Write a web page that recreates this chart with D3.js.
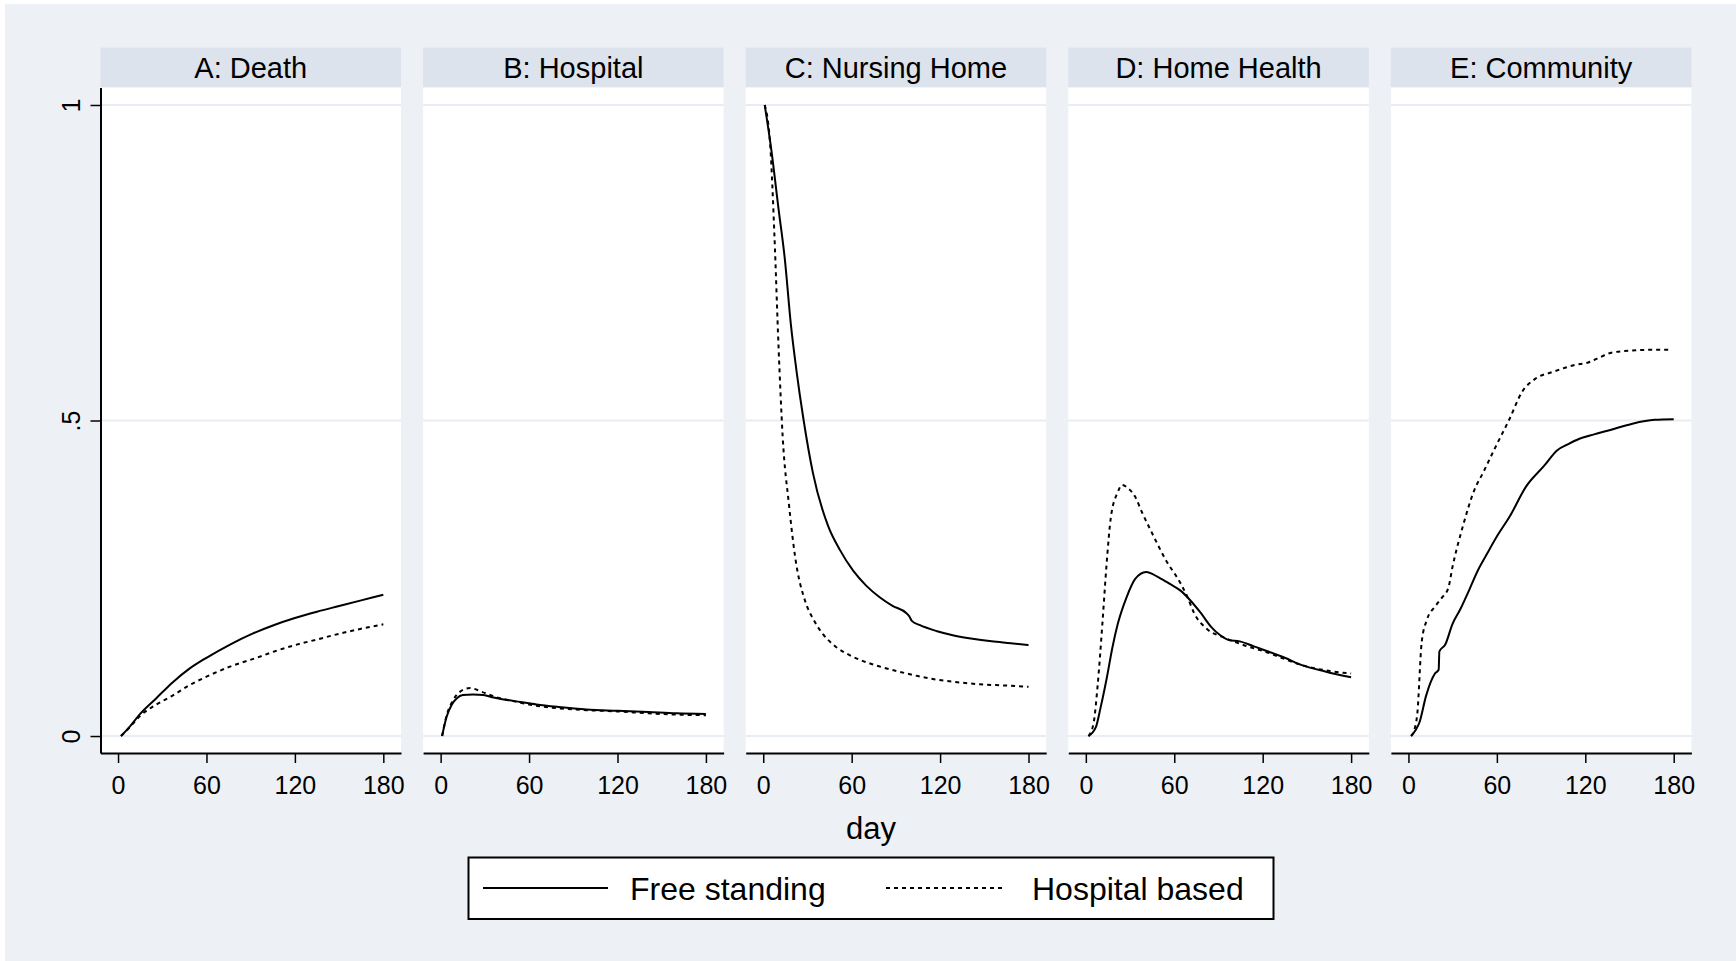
<!DOCTYPE html>
<html>
<head>
<meta charset="utf-8">
<script src="https://cdn.jsdelivr.net/npm/d3@7"></script>
<style>
  html, body { margin: 0; padding: 0; background: #fff; }
  svg { display: block; font-family: "Liberation Sans", Arial, sans-serif; }
</style>
</head>
<body>
<div id="chart"></div>
<script>
// Facetted transition probabilities by day, two series per panel

const PANELS = ["A: Death", "B: Hospital", "C: Nursing Home", "D: Home Health", "E: Community"];
const X_TICKS = [0, 60, 120, 180];
const Y_TICKS = [0, 0.5, 1];
const Y_TICK_LABELS = ["0", ".5", "1"];
const SERIES_NAMES = ["Free standing", "Hospital based"];

// [day, probability]
const deathFree = [[2,0],[8,0.015],[15,0.035],[26,0.06],[37,0.085],[48,0.106],[60,0.124],[76,0.145],[92,0.163],[106,0.176],[120,0.187],[135,0.197],[150,0.206],[165,0.215],[180,0.224]];
const deathHosp = [[2,0],[8,0.014],[15,0.032],[26,0.05],[37,0.064],[48,0.08],[60,0.094],[76,0.11],[94,0.124],[106,0.134],[120,0.144],[135,0.153],[150,0.162],[165,0.17],[180,0.177]];

const hospFree = [[1,0],[4,0.03],[7.6,0.05],[11,0.06],[15,0.065],[22,0.066],[29,0.065],[36,0.061],[43,0.058],[54,0.054],[65,0.05],[80,0.046],[99,0.042],[120,0.04],[141,0.038],[160,0.036],[180,0.035]];
const hospHosp = [[1,0],[4,0.032],[8,0.055],[13,0.07],[20,0.076],[28,0.07],[37,0.062],[48,0.056],[60,0.05],[75,0.045],[99,0.041],[120,0.039],[141,0.036],[160,0.034],[180,0.033]];

const nursFree = [[1,1],[5.6,0.927],[10.4,0.835],[14.6,0.757],[18.8,0.651],[22.5,0.58],[27.3,0.502],[33.7,0.417],[44,0.333],[52,0.295],[61,0.262],[70,0.238],[79,0.22],[88,0.206],[97,0.195],[99,0.19],[101,0.182],[106,0.176],[118,0.166],[130,0.159],[142,0.154],[155,0.15],[168,0.147],[180,0.144]];
const nursHosp = [[1,1],[4.8,0.934],[7.6,0.793],[10.4,0.616],[13.2,0.474],[17.4,0.368],[21.7,0.283],[28.7,0.212],[34,0.185],[40,0.163],[49,0.142],[59.6,0.127],[75,0.113],[90.5,0.103],[105,0.095],[118.7,0.089],[133,0.085],[147,0.082],[165,0.08],[180,0.078]];

const homeFree = [[1.8,0],[6.8,0.014],[10,0.045],[14.2,0.092],[18,0.14],[21.6,0.177],[27.5,0.219],[33.5,0.249],[40.9,0.26],[49.7,0.251],[57,0.241],[64.5,0.23],[70.5,0.216],[78,0.195],[85,0.173],[91,0.16],[97,0.152],[104.5,0.15],[114,0.142],[123.7,0.134],[135,0.124],[147,0.112],[163,0.102],[180,0.093]];
const homeHosp = [[1.8,0],[5.3,0.021],[8,0.08],[11.2,0.177],[14,0.27],[17,0.347],[21.6,0.386],[24.6,0.398],[28,0.394],[33.5,0.379],[38,0.355],[44,0.326],[54,0.28],[64.5,0.241],[69,0.22],[73.4,0.195],[82,0.17],[94,0.156],[106,0.145],[123.7,0.132],[135,0.122],[147,0.112],[163,0.104],[180,0.099]];

const commFree = [[1.8,0],[5,0.01],[7.4,0.021],[12,0.064],[18,0.099],[20.5,0.105],[21,0.134],[25,0.145],[29.8,0.177],[35,0.2],[41.7,0.234],[47,0.262],[53.6,0.29],[61,0.32],[68.5,0.347],[80,0.396],[92,0.428],[101,0.453],[108,0.462],[116,0.471],[126,0.478],[137,0.485],[152,0.495],[167,0.501],[180,0.502]];
const commHosp = [[1.8,0],[4,0.01],[6,0.035],[9,0.149],[12.5,0.184],[18,0.205],[23,0.22],[27,0.234],[30,0.269],[37,0.333],[44.6,0.389],[50.6,0.417],[59.5,0.46],[68.5,0.502],[77,0.545],[86,0.566],[98,0.577],[113,0.588],[122,0.592],[128,0.598],[137,0.607],[152,0.611],[165,0.612],[178,0.612]];

const FREE = [deathFree, hospFree, nursFree, homeFree, commFree];
const HOSP = [deathHosp, hospHosp, nursHosp, homeHosp, commHosp];

/* ── Layout ── */
const totalW = 1736, totalH = 961;
const BG = "#edf1f6", HEADER_BG = "#dce3ed", GRID = "#e8edf4";
const panelLeft0 = 100.5, panelStep = 322.6, panelW = 300.5;
const headTop = 47.6, headH = 39.9;
const plotTop = 87.5, plotBottom = 753;

const svg = d3.select("#chart").append("svg")
  .attr("width", totalW).attr("height", totalH)
  .attr("viewBox", `0 0 ${totalW} ${totalH}`);

svg.append("rect").attr("x", 5).attr("y", 4)
  .attr("width", totalW - 5).attr("height", totalH - 4).attr("fill", BG);

/* ── Scales ── */
const x = d3.scaleLinear().domain([-11.9, 192]).range([0, panelW]);
const y = d3.scaleLinear().domain([-0.0269, 1.0277]).range([plotBottom - plotTop, 0]);

const lineGen = d3.line()
  .x(d => x(d[0]))
  .y(d => y(d[1]))
  .curve(d3.curveMonotoneX);

PANELS.forEach((title, i) => {
  const left = panelLeft0 + i * panelStep;

  // header strip
  svg.append("rect").attr("x", left).attr("y", headTop)
    .attr("width", panelW).attr("height", headH).attr("fill", HEADER_BG);
  svg.append("text").attr("x", left + panelW / 2).attr("y", headTop + headH / 2)
    .attr("dy", "0.36em").attr("text-anchor", "middle")
    .attr("font-size", 29).attr("fill", "#000").text(title);

  const g = svg.append("g").attr("transform", `translate(${left},${plotTop})`);

  g.append("rect").attr("width", panelW).attr("height", plotBottom - plotTop).attr("fill", "#fff");

  /* ── Grid ── */
  g.selectAll(".grid").data(Y_TICKS).join("line")
    .attr("x1", 0).attr("x2", panelW)
    .attr("y1", d => y(d)).attr("y2", d => y(d))
    .attr("stroke", GRID).attr("stroke-width", 2);

  /* ── Lines ── */
  g.append("path").datum(HOSP[i])
    .attr("fill", "none").attr("stroke", "#000").attr("stroke-width", 2)
    .attr("stroke-dasharray", "4 4").attr("d", lineGen);
  g.append("path").datum(FREE[i])
    .attr("fill", "none").attr("stroke", "#000").attr("stroke-width", 2)
    .attr("d", lineGen);

  /* ── X axis ── */
  g.append("g").attr("transform", `translate(0,${plotBottom - plotTop})`)
    .call(d3.axisBottom(x).tickValues(X_TICKS).tickSize(10).tickSizeOuter(0).tickPadding(13))
    .call(ax => ax.select(".domain").attr("stroke", "#000").attr("stroke-width", 2))
    .call(ax => ax.selectAll("line").attr("stroke", "#000").attr("stroke-width", 1.5))
    .selectAll("text").attr("font-size", 25).attr("fill", "#000")
    .attr("font-family", "Liberation Sans, Arial, sans-serif");

  /* ── Y axis (first panel only) ── */
  if (i === 0) {
    g.append("g")
      .call(d3.axisLeft(y).tickValues(Y_TICKS).tickSize(10).tickSizeOuter(0)
        .tickFormat((d, k) => Y_TICK_LABELS[k]))
      .call(ax => ax.select(".domain").attr("stroke", "#000").attr("stroke-width", 2))
      .call(ax => ax.selectAll("line").attr("stroke", "#000").attr("stroke-width", 1.5))
      .selectAll("text")
      .attr("x", 0).attr("y", 0).attr("dy", "0.36em")
      .attr("transform", "translate(-30,0) rotate(-90)")
      .attr("text-anchor", "middle")
      .attr("font-size", 25).attr("fill", "#000")
      .attr("font-family", "Liberation Sans, Arial, sans-serif");
  }
});

/* ── Axis title ── */
svg.append("text").attr("x", 871).attr("y", 828).attr("dy", "0.36em")
  .attr("text-anchor", "middle").attr("font-size", 31).attr("fill", "#000")
  .text("day");

/* ── Legend ── */
const leg = svg.append("g");
leg.append("rect").attr("x", 468.5).attr("y", 857.5).attr("width", 805).attr("height", 61.5)
  .attr("fill", "#fff").attr("stroke", "#000").attr("stroke-width", 2);
const legItems = [
  { x1: 483, x2: 608, tx: 630, dash: null },
  { x1: 886, x2: 1005, tx: 1032, dash: "4 4" },
];
legItems.forEach((it, k) => {
  leg.append("line").attr("x1", it.x1).attr("x2", it.x2).attr("y1", 888).attr("y2", 888)
    .attr("stroke", "#000").attr("stroke-width", 2)
    .attr("stroke-dasharray", it.dash);
  leg.append("text").attr("x", it.tx).attr("y", 888).attr("dy", "0.36em")
    .attr("font-size", 32).attr("fill", "#000").text(SERIES_NAMES[k]);
});
</script>
</body>
</html>
